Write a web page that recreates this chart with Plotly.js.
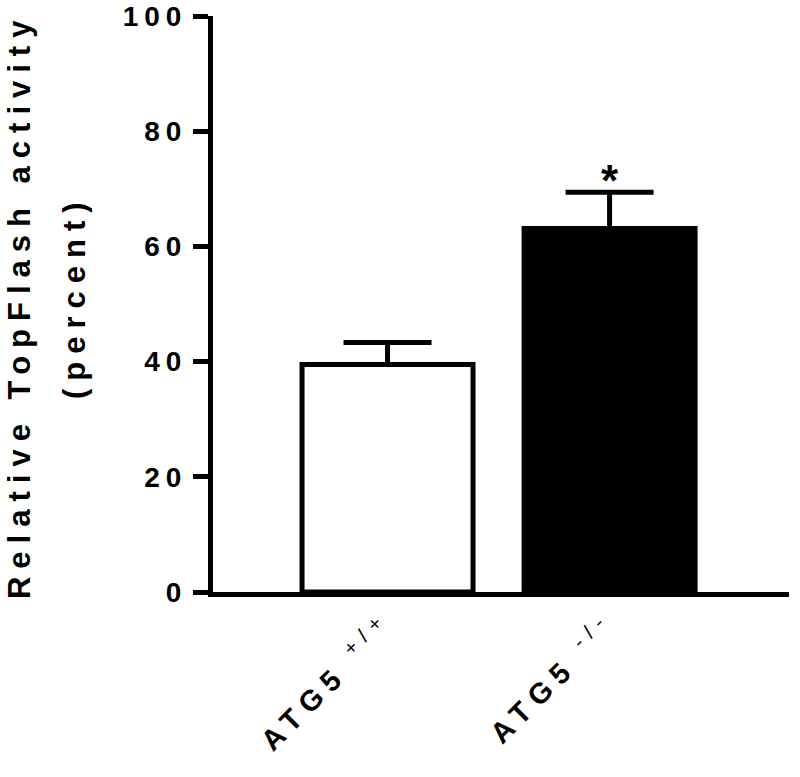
<!DOCTYPE html>
<html>
<head>
<meta charset="utf-8">
<script src="https://cdn.plot.ly/plotly-3.0.1.min.js"></script>
<style>
  body { margin: 0; background: #fff; }
  #chart { width: 800px; height: 777px; }
  #chart .ytick text { letter-spacing: 6px; }
  #chart .xtick text { letter-spacing: 8px; }
</style>
</head>
<body>
<div id="chart"></div>
<script>
var groups = [
  "ATG5 <sup><span style='font-weight:normal'>+/+</span></sup>",
  "ATG5 <sup><span style='font-weight:normal'>-/-</span></sup>",
];
var activity = [39.5, 63.1];
var sem = [3.8, 6.3];
var fills = ["#ffffff", "#000000"];
var yTicks = [0, 20, 40, 60, 80, 100];
var yTitle = ["Relative TopFlash activity", "(percent)"];

var trace = {
  type: "bar",
  x: [0, 1],
  y: activity,
  width: 0.77,
  marker: {
    color: fills,
    line: { color: "#000", width: 5 },
  },
  error_y: {
    type: "data",
    symmetric: false,
    array: sem,
    arrayminus: [0, 0],
    color: "#000",
    thickness: 5,
    width: 44,
  },
  hoverinfo: "skip",
};

var layout = {
  width: 800,
  height: 777,
  margin: { l: 213, r: 11, t: 16, b: 185 },
  paper_bgcolor: "#fff",
  plot_bgcolor: "#fff",
  showlegend: false,
  font: { family: "Liberation Sans, Arial, sans-serif", color: "#000" },
  xaxis: {
    range: [-0.786, 1.808],
    tickmode: "array",
    tickvals: [0, 1],
    ticktext: groups,
    tickangle: -45,
    ticks: "",
    showline: true,
    linewidth: 5,
    linecolor: "#000",
    showgrid: false,
    zeroline: false,
    tickfont: { size: 29, weight: "bold" },
    fixedrange: true,
  },
  yaxis: {
    range: [0, 100],
    tickmode: "array",
    tickvals: yTicks,
    ticks: "outside",
    ticklen: 15,
    tickwidth: 5,
    tickcolor: "#000",
    showline: true,
    linewidth: 5,
    linecolor: "#000",
    showgrid: false,
    zeroline: false,
    tickfont: { size: 28, weight: "bold" },
    fixedrange: true,
  },
  annotations: [
    {
      x: 1,
      y: 71.5,
      xref: "x",
      yref: "y",
      text: "*",
      showarrow: false,
      font: { size: 44, weight: "bold" },
    },
    {
      x: 0,
      y: 0.4965,
      xref: "paper",
      yref: "paper",
      xshift: -194,
      xanchor: "center",
      yanchor: "middle",
      textangle: -90,
      text: yTitle[0],
      showarrow: false,
      font: { size: 31, weight: "bold" },
    },
    {
      x: 0,
      y: 0.512,
      xref: "paper",
      yref: "paper",
      xshift: -139,
      xanchor: "center",
      yanchor: "middle",
      textangle: -90,
      text: yTitle[1],
      showarrow: false,
      font: { size: 31, weight: "bold" },
    },
  ],
};

Plotly.newPlot("chart", [trace], layout, { displayModeBar: false }).then(function () {
  // wide letter spacing on the two title annotations
  var ann = document.querySelectorAll("#chart .annotation");
  for (var i = 1; i < ann.length; i++) {
    ann[i].querySelector("text").style.letterSpacing = "8px";
  }
});
</script>
</body>
</html>
